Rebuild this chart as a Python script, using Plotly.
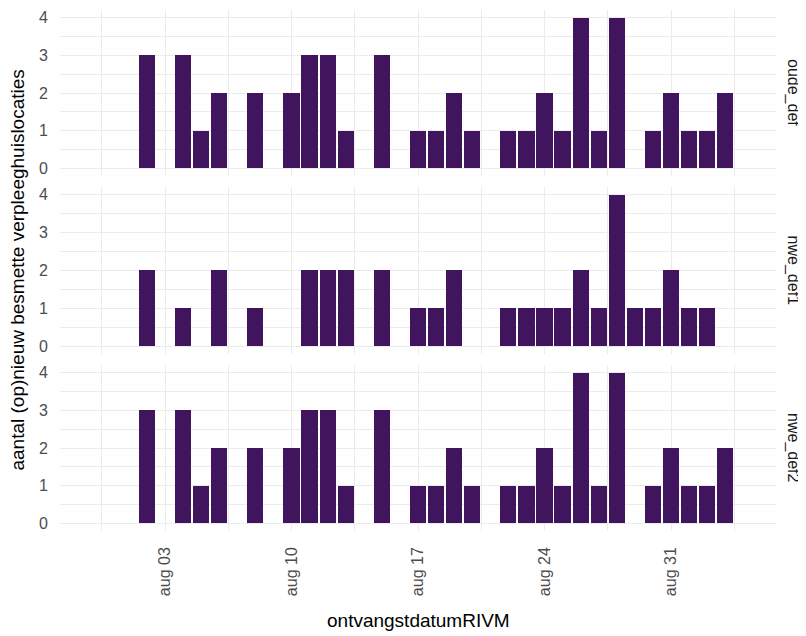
import plotly.graph_objects as go
from datetime import datetime, timedelta

# ---- data ----
dates = [
    "2020-08-02", "2020-08-03", "2020-08-04", "2020-08-05", "2020-08-06", "2020-08-07",
    "2020-08-08", "2020-08-09", "2020-08-10", "2020-08-11", "2020-08-12", "2020-08-13",
    "2020-08-14", "2020-08-15", "2020-08-16", "2020-08-17", "2020-08-18", "2020-08-19",
    "2020-08-20", "2020-08-21", "2020-08-22", "2020-08-23", "2020-08-24", "2020-08-25",
    "2020-08-26", "2020-08-27", "2020-08-28", "2020-08-29", "2020-08-30", "2020-08-31",
    "2020-09-01", "2020-09-02", "2020-09-03",
]
oude_def = [3, 0, 3, 1, 2, 0, 2, 0, 2, 3, 3, 1, 0, 3, 0, 1, 1, 2, 1, 0, 1, 1, 2, 1, 4, 1, 4, 0, 1, 2, 1, 1, 2]
nwe_def1 = [2, 0, 1, 0, 2, 0, 1, 0, 0, 2, 2, 2, 0, 2, 0, 1, 1, 2, 0, 0, 1, 1, 1, 1, 2, 1, 4, 1, 1, 2, 1, 1, 0]
nwe_def2 = [3, 0, 3, 1, 2, 0, 2, 0, 2, 3, 3, 1, 0, 3, 0, 1, 1, 2, 1, 0, 1, 1, 2, 1, 4, 1, 4, 0, 1, 2, 1, 1, 2]
panels = ["oude_def", "nwe_def1", "nwe_def2"]
series = [oude_def, nwe_def1, nwe_def2]
y_ticks = [0, 1, 2, 3, 4]
x_tick_dates = ["2020-08-03", "2020-08-10", "2020-08-17", "2020-08-24", "2020-08-31"]
x_tick_text = ["aug 03", "aug 10", "aug 17", "aug 24", "aug 31"]

BAR = "#41155E"
GRID = "#EBEBEB"
FONT = "Liberation Sans, Arial, sans-serif"

fig = go.Figure()
DAY_MS = 86400000
ref = datetime(2020, 8, 3)
x_lo = ref - timedelta(days=5.81)
x_hi = ref + timedelta(days=33.81)

domains = [[0.6814, 1.0], [0.3397, 0.660], [0.0, 0.3186]]

for i, (name, vals) in enumerate(zip(panels, series)):
    ax = "" if i == 0 else str(i + 1)
    fig.add_trace(go.Bar(
        x=dates, y=vals, width=0.9 * DAY_MS,
        marker=dict(color=BAR, line=dict(width=0)),
        xaxis="x" + ax, yaxis="y" + ax, showlegend=False,
    ))
    last = (i == 2)
    fig.update_layout(**{
        "xaxis" + ax: dict(
            type="date", range=[x_lo, x_hi], domain=[0, 1],
            anchor="y" + ax, matches=None if i == 0 else "x",
            tickmode="array", tickvals=x_tick_dates, ticktext=x_tick_text,
            showticklabels=last, tickangle=-90, ticklabelstandoff=12,
            tickfont=dict(size=16, color="#4D4D4D", family=FONT),
            showgrid=True, gridcolor=GRID, gridwidth=1.2,
            minor=dict(tickmode="linear", tick0="2020-07-30 12:00", dtick=7 * DAY_MS,
                       showgrid=True, gridcolor=GRID, gridwidth=0.8),
            zeroline=False, showline=False, ticks="",
        ),
        "yaxis" + ax: dict(
            range=[-0.2, 4.2], domain=domains[i], anchor="x" + ax,
            tickmode="array", tickvals=y_ticks, ticktext=[str(v) for v in y_ticks],
            ticklabelstandoff=11,
            tickfont=dict(size=16, color="#4D4D4D", family=FONT),
            showgrid=True, gridcolor=GRID, gridwidth=1.2,
            minor=dict(tickmode="linear", tick0=0.5, dtick=1,
                       showgrid=True, gridcolor=GRID, gridwidth=0.8),
            zeroline=False, showline=False, ticks="",
        ),
    })
    fig.add_annotation(
        text=name, x=1.0237, y=(domains[i][0] + domains[i][1]) / 2,
        xref="paper", yref="paper", xanchor="center", yanchor="middle",
        textangle=90, showarrow=False,
        font=dict(size=16, color="#1A1A1A", family=FONT),
    )

fig.add_annotation(
    text="aantal (op)nieuw besmette verpleeghuislocaties",
    x=-0.060, y=0.5, xref="paper", yref="paper",
    xanchor="center", yanchor="middle", textangle=-90, showarrow=False,
    font=dict(size=19, color="#000000", family=FONT),
)
fig.add_annotation(
    text="ontvangstdatumRIVM", x=0.5, y=-0.171, xref="paper", yref="paper",
    xanchor="center", yanchor="middle", showarrow=False,
    font=dict(size=19, color="#000000", family=FONT),
)

# page body adds an 8px margin, so the figure is drawn 8px smaller and shifted
fig.update_layout(
    width=798, height=628,
    margin=dict(l=52, r=30, t=2, b=105),
    paper_bgcolor="white", plot_bgcolor="white",
    bargap=0, font=dict(family=FONT),
)

fig.write_html("out.html")
